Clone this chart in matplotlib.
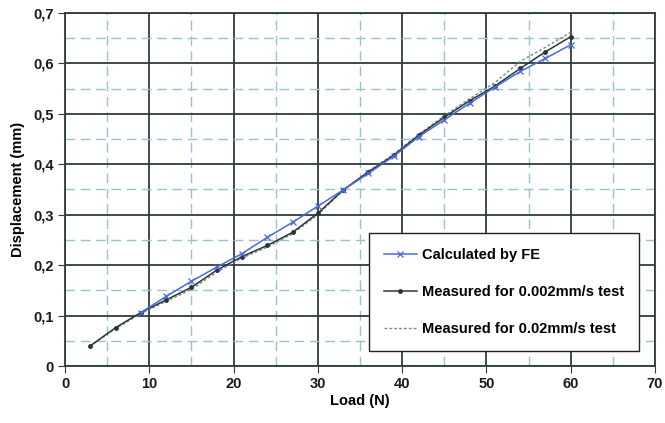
import matplotlib
matplotlib.use("Agg")
import matplotlib.pyplot as plt
from matplotlib.ticker import MultipleLocator, FuncFormatter

plt.rcParams['font.family'] = ['Liberation Sans', 'DejaVu Sans']

fe_load = [9, 12, 15, 18, 21, 24, 27, 30, 33, 36, 39, 42, 45, 48, 51, 54, 57, 60]
fe_disp = [0.106, 0.138, 0.168, 0.196, 0.223, 0.255, 0.285, 0.317, 0.349, 0.382, 0.416,
           0.455, 0.488, 0.521, 0.553, 0.584, 0.610, 0.637]

m1_load = [3, 6, 9, 12, 15, 18, 21, 24, 27, 30, 33, 36, 39, 42, 45, 48, 51, 54, 57, 60]
m1_disp = [0.040, 0.076, 0.106, 0.131, 0.156, 0.190, 0.217, 0.239, 0.265, 0.303, 0.349,
           0.385, 0.418, 0.458, 0.493, 0.526, 0.555, 0.590, 0.623, 0.653]

m2_load = [3, 6, 9, 12, 15, 18, 21, 24, 27, 30, 33, 36, 39, 42, 45, 48, 51, 54, 57, 60]
m2_disp = [0.040, 0.074, 0.104, 0.128, 0.152, 0.186, 0.214, 0.236, 0.262, 0.300, 0.348,
           0.386, 0.420, 0.460, 0.496, 0.530, 0.562, 0.604, 0.632, 0.662]

fig = plt.figure(figsize=(6.65, 4.23), dpi=100)
ax = fig.add_axes([65/665, 1-366/423, 590/665, 353/423])

ax.set_xlim(0, 70)
ax.set_ylim(0, 0.7)
ax.xaxis.set_major_locator(MultipleLocator(10))
ax.xaxis.set_minor_locator(MultipleLocator(5))
ax.yaxis.set_major_locator(MultipleLocator(0.1))
ax.yaxis.set_minor_locator(MultipleLocator(0.05))
ax.yaxis.set_major_formatter(FuncFormatter(lambda v, p: ('%g' % round(v, 2)).replace('.', ',')))

ax.grid(which='major', color='#2e3c3d', linewidth=1.3, linestyle='-')
ax.grid(which='minor', color='#9dc0d0', linewidth=1.0, linestyle=(0, (7, 4)))
ax.set_axisbelow(True)

for s in ax.spines.values():
    s.set_color('#2e3c3d')
    s.set_linewidth(1.3)

ax.tick_params(which='major', direction='out', length=5, color='#2e3c3d',
               labelsize=10.5, pad=3)
ax.tick_params(which='minor', length=0)
for lbl in ax.get_xticklabels() + ax.get_yticklabels():
    lbl.set_fontweight('bold')
    lbl.set_color('#1a1a1a')

ax.plot(fe_load, fe_disp, color='#4a6ad6', linewidth=1.1, marker='x', markersize=4,
        markeredgewidth=0.9, label='Calculated by FE', zorder=4)
ax.plot(m1_load, m1_disp, color='#2c3535', linewidth=1.1, marker='o', markersize=2.5,
        label='Measured for 0.002mm/s test', zorder=3)
ax.plot(m2_load, m2_disp, color='#7a8a8c', linewidth=1.0, linestyle=(0, (2, 1.5)),
        label='Measured for 0.02mm/s test', zorder=2)

ax.set_xlabel('Load (N)', fontsize=10.5, fontweight='bold', labelpad=2)
ax.set_ylabel('Displacement (mm)', fontsize=10.5, fontweight='bold', labelpad=6)

leg = ax.legend(loc='lower right', bbox_to_anchor=(639/665, (423-351)/423),
                bbox_transform=fig.transFigure, frameon=True, fancybox=False,
                edgecolor='#222222', framealpha=1, borderpad=1.0, labelspacing=1.6,
                borderaxespad=0, handlelength=2.3, handletextpad=0.35,
                prop={'weight': 'bold', 'size': 10.5})
leg.get_frame().set_linewidth(1.0)

fig.savefig('out.png', dpi=100)
